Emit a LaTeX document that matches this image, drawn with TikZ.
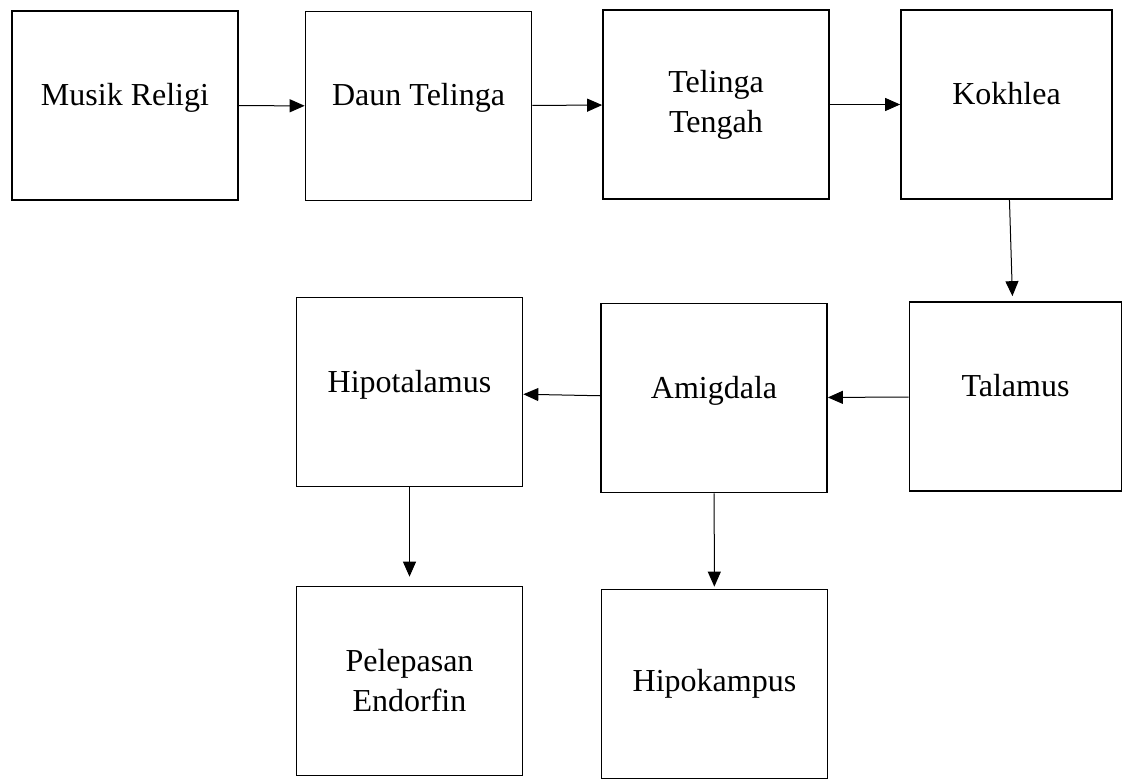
\documentclass[tikz,border=0pt]{standalone}
\usepackage{fontspec}
\setmainfont{Liberation Serif}
\usetikzlibrary{arrows.meta}
\tikzset{
    >={Triangle[length=7.5pt,width=6.5pt]},
    box/.style={draw=black, line width=0.85pt, align=center, minimum width=113pt, minimum height=94.5pt, inner sep=2pt, font=\fontsize{16}{20}\selectfont},
    single/.style={box, text height=11pt, text depth=11pt},
    flow/.style={->, line width=0.5pt, draw=black}
}
\begin{document}
\begin{tikzpicture}[x=0.5pt, y=-0.5pt]
    \useasboundingbox (0,0) rectangle (1123,780);
    \node[single] (musik) at (125,105.5) {Musik Religi};
    \node[single] (daun) at (418.5,106) {Daun Telinga};
    \node[box] (tengah) at (716,104.5) {Telinga\\Tengah};
    \node[single, minimum width=105.5pt] (kokhlea) at (1006.5,104.5) {Kokhlea};
    \node[single, minimum width=106pt] (talamus) at (1015.5,396.5) {Talamus};
    \node[single] (amigdala) at (714,398) {Amigdala};
    \node[single] (hipotalamus) at (409.5,392) {Hipotalamus};
    \node[box] (endorfin) at (409.5,681) {Pelepasan\\Endorfin};
    \node[box] (hipokampus) at (714.5,684) {Hipokampus};
    \draw[flow] (musik) -- (daun);
    \draw[flow] (daun) -- (tengah);
    \draw[flow] (tengah) -- (kokhlea);
    \draw[flow, shorten >=2.5pt] (kokhlea) -- (talamus);
    \draw[flow] (talamus) -- (amigdala);
    \draw[flow] (amigdala) -- (hipotalamus);
    \draw[flow, shorten >=4.5pt] (hipotalamus) -- (endorfin);
    \draw[flow, shorten >=1pt] (amigdala) -- (hipokampus);
\end{tikzpicture}
\end{document}
